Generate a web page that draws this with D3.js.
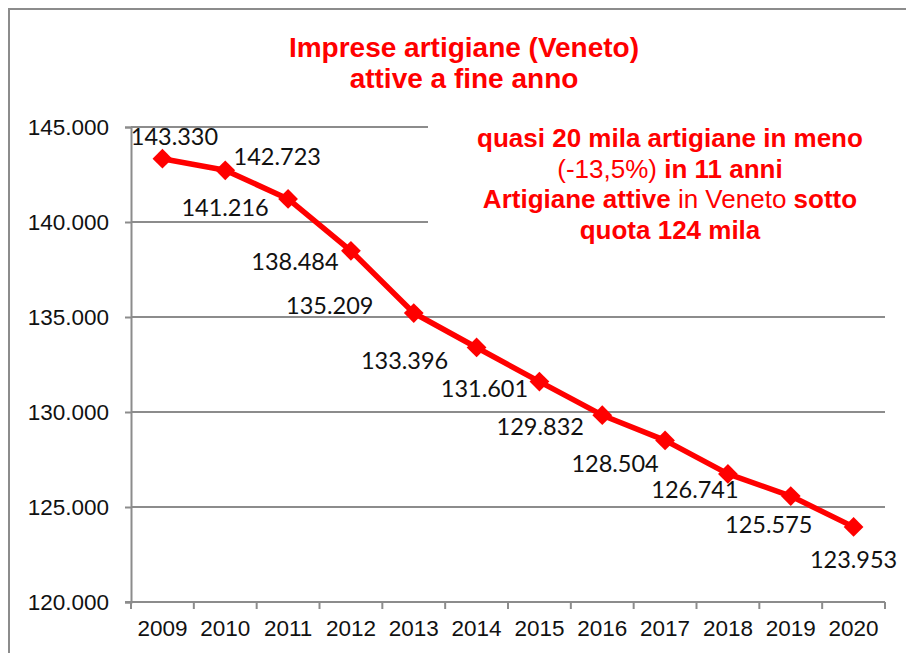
<!DOCTYPE html>
<html>
<head>
<meta charset="utf-8">
<script src="https://cdn.jsdelivr.net/npm/d3@7"></script>
<style>
    html, body { margin: 0; padding: 0; background: #fff; }
    svg { display: block; }
</style>
</head>
<body>
<svg id="chart" width="906" height="653"></svg>
<script>
var years = [2009, 2010, 2011, 2012, 2013, 2014, 2015, 2016, 2017, 2018, 2019, 2020];
var imprese = [143330, 142723, 141216, 138484, 135209, 133396, 131601, 129832, 128504, 126741, 125575, 123953];
var yTicks = [120000, 125000, 130000, 135000, 140000, 145000];
var titleLines = ['Imprese artigiane (Veneto)', 'attive a fine anno'];
// each note line is a list of [text, bold]
var noteLines = [
    [['quasi 20 mila artigiane in meno', true]],
    [['(-13,5%) ', false], ['in 11 anni', true]],
    [['Artigiane attive', true], [' in Veneto ', false], ['sotto', true]],
    [['quota 124 mila', true]]
];
// hand-placed data label offsets from each point (like in the spreadsheet)
var labelOffsets = [[12, -22], [52, -13], [-63, 9], [-56, 11], [-84, -7], [-72, 13],
    [-55, 7], [-62, 12], [-50, 23], [-33, 16], [-22, 29], [0, 33]];

(function() {
    'use strict';

    var svg = d3.select('#chart');
    var left = 131, right = 885, top = 127, bottom = 602;
    var red = '#ff0000', grey = '#8c8c8c';
    var arial = '"Liberation Sans", Arial, sans-serif';

    var it = d3.formatLocale({ decimal: ',', thousands: '.', grouping: [3], currency: ['€', ''] });
    var fmt = it.format(',');

    var x = d3.scaleBand().domain(years).range([left, right]).padding(0);
    var y = d3.scaleLinear().domain([120000, 145000]).range([bottom, top]);
    function cx(d) { return x(d) + x.bandwidth() / 2; }

    // outer frame
    svg.append('path')
        .attr('d', 'M9,653 L9,9 L906,9')
        .attr('fill', 'none')
        .attr('stroke', grey)
        .attr('stroke-width', 2);

    // gridlines
    svg.append('g')
        .selectAll('line')
        .data(yTicks.slice(1))
        .enter().append('line')
        .attr('x1', left).attr('x2', right)
        .attr('y1', function(d) { return y(d); })
        .attr('y2', function(d) { return y(d); })
        .attr('stroke', grey)
        .attr('stroke-width', 2);

    // y axis
    var yAxis = svg.append('g')
        .attr('transform', 'translate(' + left + ',0)')
        .call(d3.axisLeft(y).tickValues(yTicks).tickFormat(fmt).tickSize(6).tickPadding(16));
    yAxis.select('.domain').attr('stroke', grey).attr('stroke-width', 2);
    yAxis.selectAll('.tick line').attr('stroke', grey).attr('stroke-width', 2);
    yAxis.selectAll('text')
        .attr('font-family', arial)
        .attr('font-size', 22.5)
        .attr('fill', '#111');

    // x axis: labels centred, ticks between categories
    var xAxis = svg.append('g')
        .attr('transform', 'translate(0,' + bottom + ')')
        .call(d3.axisBottom(x).tickSize(0).tickPadding(18));
    xAxis.select('.domain').remove();
    xAxis.selectAll('text')
        .attr('font-family', arial)
        .attr('font-size', 22.5)
        .attr('fill', '#111');

    svg.append('line')
        .attr('x1', left - 6).attr('x2', right)
        .attr('y1', bottom).attr('y2', bottom)
        .attr('stroke', grey)
        .attr('stroke-width', 2);

    svg.append('g')
        .selectAll('line')
        .data(years.concat(['end']))
        .enter().append('line')
        .attr('x1', function(d) { return d === 'end' ? right : x(d); })
        .attr('x2', function(d) { return d === 'end' ? right : x(d); })
        .attr('y1', bottom)
        .attr('y2', bottom + 7)
        .attr('stroke', grey)
        .attr('stroke-width', 2);

    // white box behind the note hides the top gridlines
    svg.append('rect')
        .attr('x', 428).attr('y', 100)
        .attr('width', 478).attr('height', 150)
        .attr('fill', '#fff');

    // title
    svg.append('text')
        .attr('text-anchor', 'middle')
        .attr('font-family', arial)
        .attr('font-size', 28)
        .attr('font-weight', 'bold')
        .attr('fill', red)
        .selectAll('tspan')
        .data(titleLines)
        .enter().append('tspan')
        .attr('x', 464)
        .attr('y', function(d, i) { return 57 + i * 31; })
        .text(function(d) { return d; });

    // note
    var note = svg.append('g');
    noteLines.forEach(function(line, i) {
        note.append('text')
            .attr('x', 670)
            .attr('y', 147 + i * 30.5)
            .attr('text-anchor', 'middle')
            .attr('font-family', arial)
            .attr('font-size', 26)
            .attr('fill', red)
            .selectAll('tspan')
            .data(line)
            .enter().append('tspan')
            .attr('font-weight', function(d) { return d[1] ? 'bold' : 'normal'; })
            .style('white-space', 'pre')
            .text(function(d) { return d[0]; });
    });

    // series line
    var points = years.map(function(d, i) { return { year: d, value: imprese[i], i: i }; });

    svg.append('path')
        .datum(points)
        .attr('fill', 'none')
        .attr('stroke', red)
        .attr('stroke-width', 5.5)
        .attr('stroke-linejoin', 'round')
        .attr('d', d3.line()
            .x(function(d) { return cx(d.year); })
            .y(function(d) { return y(d.value); }));

    svg.append('g')
        .selectAll('path')
        .data(points)
        .enter().append('path')
        .attr('d', d3.symbol().type(d3.symbolSquare).size(195))
        .attr('transform', function(d) {
            return 'translate(' + cx(d.year) + ',' + y(d.value) + ') rotate(45)';
        })
        .attr('fill', red);

    // data labels
    svg.append('g')
        .selectAll('text')
        .data(points)
        .enter().append('text')
        .attr('x', function(d) { return cx(d.year) + labelOffsets[d.i][0]; })
        .attr('y', function(d) { return y(d.value) + labelOffsets[d.i][1]; })
        .attr('dy', '0.35em')
        .attr('text-anchor', 'middle')
        .attr('font-family', 'Lato, "Open Sans", sans-serif')
        .attr('font-size', 23.5)
        .attr('fill', '#111')
        .text(function(d) { return fmt(d.value); });
}());
</script>
</body>
</html>
